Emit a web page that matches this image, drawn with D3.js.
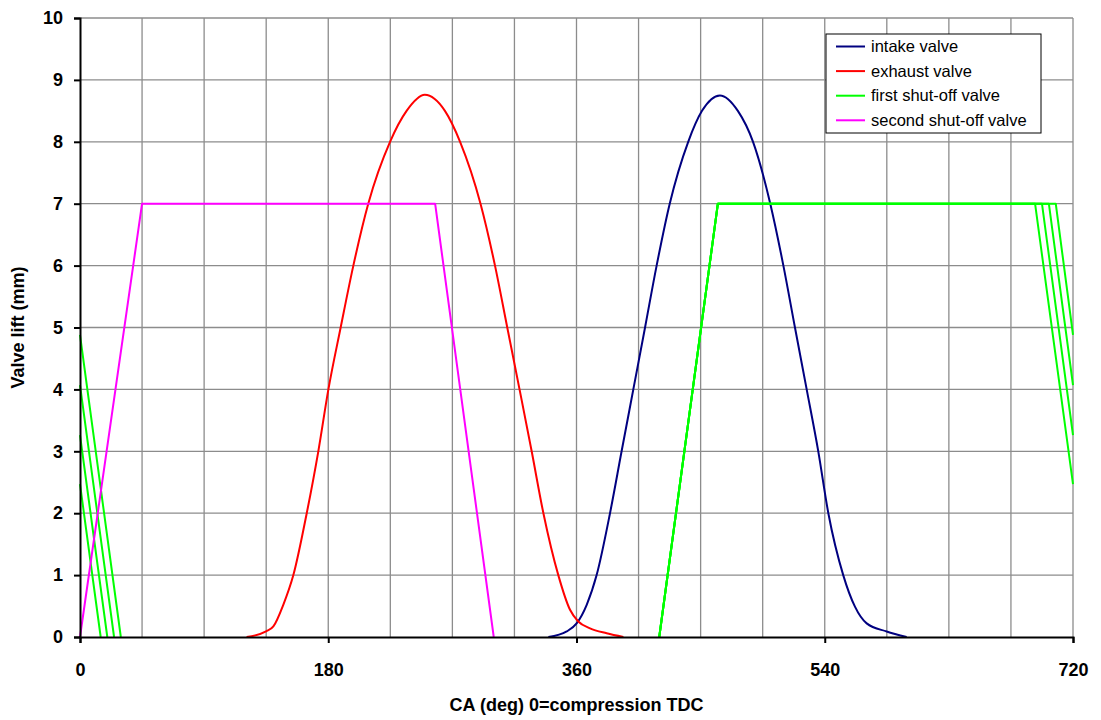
<!DOCTYPE html>
<html>
<head>
<meta charset="utf-8">
<script src="https://cdn.jsdelivr.net/npm/d3@7"></script>
<style>
  body { margin: 0; background: #fff; }
  svg { display: block; font-family: Arial, "Liberation Sans", sans-serif; }
  .tick-label { font-weight: bold; font-size: 18px; fill: #000; }
  .axis-title { font-weight: bold; font-size: 18px; fill: #000; }
  .legend-text { font-size: 16.5px; fill: #000; }
</style>
</head>
<body>
<svg id="chart"></svg>
<script>
// crank angle (deg) / lift (mm) pairs; null = gap in the line
const intakeValve = [
  [339.6, 0], [352.9, 0.09], [360.1, 0.22], [367.4, 0.52], [374.6, 1.0],
  [384.3, 2.0], [392.7, 3.0], [401.2, 4.0], [409.7, 5.0], [418.1, 6.0],
  [427.6, 7.0], [441, 8.0], [451, 8.5], [464, 8.75],
  [477, 8.5], [488, 8.0], [500.5, 7.0], [510, 6.0],
  [518.4, 5.0], [526.9, 4.0], [535.3, 3.0], [542.6, 2.0], [553.4, 1.0],
  [561.9, 0.49], [570.4, 0.22], [584.9, 0.09], [599.4, 0]
];
const exhaustValve = [
  [120.8, 0], [134.9, 0.09], [140.2, 0.17], [147.4, 0.52], [154.7, 1.0],
  [164.4, 2.0], [172.8, 3.0], [180.1, 4.0], [189.0, 5.0], [198.2, 6.0],
  [209.0, 7.0], [224.8, 8.0], [236.8, 8.5], [250, 8.76],
  [264.6, 8.5], [275.6, 8.0], [290.4, 7.0], [300.9, 6.0],
  [309.8, 5.0], [318.7, 4.0], [327.5, 3.0], [336.0, 2.0], [346.8, 1.0],
  [355.3, 0.44], [361.3, 0.25], [369.8, 0.14], [381.9, 0.06], [394, 0]
];
const firstShutOff1 = [[0, 2.47], [15, 0], null, [420, 0], [462.5, 7], [692.5, 7], [720, 2.47]];
const firstShutOff2 = [[0, 3.26], [19.8, 0], null, [420, 0], [462.5, 7], [697.5, 7], [720, 3.26]];
const firstShutOff3 = [[0, 4.07], [24.7, 0], null, [420, 0], [462.5, 7], [702.5, 7], [720, 4.07]];
const firstShutOff4 = [[0, 4.88], [29.6, 0], null, [420, 0], [462.5, 7], [707.5, 7], [720, 4.88]];
const secondShutOff = [[0, 0], [45, 7], [257.5, 7], [300, 0]];

const xTicks = [0, 180, 360, 540, 720];
const xGrid = d3.range(0, 721, 45);
const yTicks = d3.range(0, 11, 1);

const series = [
  { name: "intake valve", color: "#000080", smooth: true, lines: [intakeValve] },
  { name: "exhaust valve", color: "#ff0000", smooth: true, lines: [exhaustValve] },
  { name: "first shut-off valve", color: "#00ff00", smooth: false, lines: [firstShutOff1, firstShutOff2, firstShutOff3, firstShutOff4] },
  { name: "second shut-off valve", color: "#ff00ff", smooth: false, lines: [secondShutOff] }
];

const width = 1101;
const height = 720;
const margin = { top: 18, right: 28, bottom: 83, left: 80 };

const svg = d3.select("#chart")
  .attr("width", width)
  .attr("height", height);

const x = d3.scaleLinear().domain([0, 720]).range([margin.left, width - margin.right]);
const y = d3.scaleLinear().domain([0, 10]).range([height - margin.bottom, margin.top]);

// grid
svg.append("g")
  .selectAll("line")
  .data(xGrid.slice(1))
  .join("line")
  .attr("x1", d => x(d)).attr("x2", d => x(d))
  .attr("y1", y(0)).attr("y2", y(10))
  .attr("stroke", "#8c8c8c")
  .attr("stroke-width", 1.3);

svg.append("g")
  .selectAll("line")
  .data(yTicks.slice(1))
  .join("line")
  .attr("x1", x(0)).attr("x2", x(720))
  .attr("y1", d => y(d)).attr("y2", d => y(d))
  .attr("stroke", "#8c8c8c")
  .attr("stroke-width", 1.3);

// series
series.forEach(s => {
  const line = d3.line()
    .defined(d => d !== null)
    .x(d => x(d[0]))
    .y(d => y(d[1]))
    .curve(s.smooth ? d3.curveMonotoneX : d3.curveLinear);

  s.lines.forEach(pts => {
    svg.append("path")
      .datum(pts)
      .attr("fill", "none")
      .attr("stroke", s.color)
      .attr("stroke-width", 2)
      .attr("stroke-linejoin", "round")
      .attr("d", line);
  });
});

// axes
const xAxis = svg.append("g")
  .attr("transform", `translate(0,${y(0)})`)
  .call(d3.axisBottom(x).tickValues(xTicks).tickSize(6).tickPadding(20).tickFormat(d3.format("d")));
const yAxis = svg.append("g")
  .attr("transform", `translate(${x(0)},0)`)
  .call(d3.axisLeft(y).tickValues(yTicks).tickSize(6).tickPadding(11));

[xAxis, yAxis].forEach(a => {
  a.select(".domain").attr("stroke", "#000").attr("stroke-width", 2);
  a.selectAll(".tick line").attr("stroke", "#000").attr("stroke-width", 2);
  a.selectAll(".tick text").attr("class", "tick-label").attr("font-family", null).attr("font-size", null);
});

// axis titles
svg.append("text")
  .attr("class", "axis-title")
  .attr("x", x(360))
  .attr("y", 711)
  .attr("text-anchor", "middle")
  .text("CA (deg) 0=compression TDC");

svg.append("text")
  .attr("class", "axis-title")
  .attr("transform", `translate(24,${y(5)}) rotate(-90)`)
  .attr("text-anchor", "middle")
  .text("Valve lift (mm)");

// legend
const legend = svg.append("g").attr("transform", "translate(826,34)");
legend.append("rect")
  .attr("width", 215)
  .attr("height", 99)
  .attr("fill", "#fff")
  .attr("stroke", "#000")
  .attr("stroke-width", 1);

const items = legend.selectAll(".legend-item")
  .data(series)
  .join("g")
  .attr("transform", (d, i) => `translate(0,${12.5 + i * 24.6})`);

items.append("line")
  .attr("x1", 10).attr("x2", 39)
  .attr("stroke", d => d.color)
  .attr("stroke-width", 2);

items.append("text")
  .attr("class", "legend-text")
  .attr("x", 45)
  .attr("dy", "0.35em")
  .text(d => d.name);
</script>
</body>
</html>
